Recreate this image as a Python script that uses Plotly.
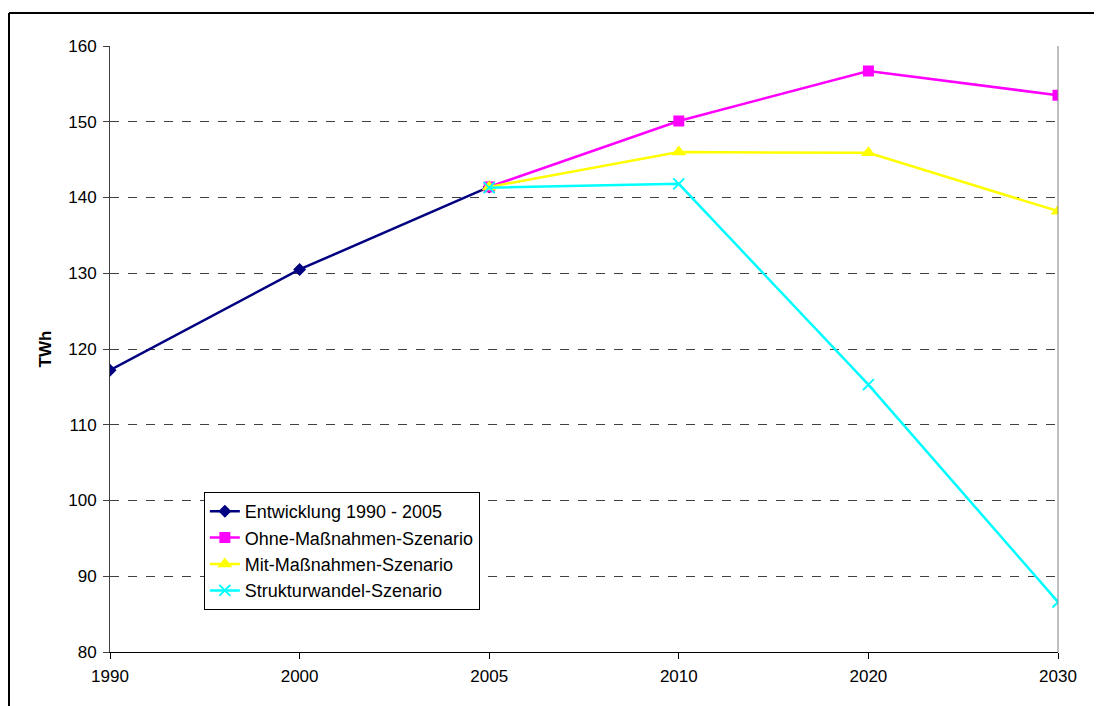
import plotly.graph_objects as go

years = ['1990', '2000', '2005', '2010', '2020', '2030']

hist_years = ['1990', '2000', '2005']
hist_values = [117.2, 130.5, 141.4]

scen_years = ['2005', '2010', '2020', '2030']
ohne_values = [141.4, 150.1, 156.7, 153.5]
mit_values = [141.4, 146.0, 145.9, 138.2]
struktur_values = [141.3, 141.8, 115.3, 86.6]

y_ticks = [80, 90, 100, 110, 120, 130, 140, 150, 160]

font_family = 'Liberation Sans, Arial, sans-serif'

trace1 = go.Scatter(x=hist_years, y=hist_values, name='Entwicklung 1990 - 2005',
                    mode='lines+markers', line=dict(color='#000080', width=2.5),
                    marker=dict(symbol='diamond', size=10, color='#000080'))
trace2 = go.Scatter(x=scen_years, y=ohne_values, name='Ohne-Maßnahmen-Szenario',
                    mode='lines+markers', line=dict(color='#FF00FF', width=2.5),
                    marker=dict(symbol='square', size=11, color='#FF00FF'))
trace3 = go.Scatter(x=scen_years, y=mit_values, name='Mit-Maßnahmen-Szenario',
                    mode='lines+markers', line=dict(color='#FFFF00', width=2.5),
                    marker=dict(symbol='triangle-up', size=13, color='#FFFF00'))
trace4 = go.Scatter(x=scen_years, y=struktur_values, name='Strukturwandel-Szenario',
                    mode='lines+markers', line=dict(color='#00FFFF', width=2.5),
                    marker=dict(symbol='x-thin', size=11, color='#00FFFF',
                                line=dict(color='#00FFFF', width=2)))

fig = go.Figure(data=[trace1, trace2, trace3, trace4])

# page body has an 8px margin, so the figure is drawn 8px in from the corner
# outer chart border (top and left edges visible in the frame)
bx = (9 - 110) / 948
by = (652 - 13) / 606
border = dict(color='black', width=2)

fig.update_layout(
    width=1094, height=698,
    margin={'l': 102, 'r': 44, 't': 38, 'b': 54},
    paper_bgcolor='white', plot_bgcolor='white',
    font=dict(family=font_family, size=17, color='black'),
    showlegend=True,
    legend=dict(x=0.099, y=0.264, xanchor='left', yanchor='top',
                bgcolor='white', bordercolor='black', borderwidth=1,
                font=dict(size=18, family=font_family)),
    xaxis=dict(type='category', categoryorder='array', categoryarray=years,
               range=[0, 5], showgrid=False, showline=True, linecolor='black',
               linewidth=1, ticks='outside', ticklen=6, tickcolor='black',
               zeroline=False, tickfont=dict(size=17), ticklabelstandoff=3),
    yaxis=dict(range=[80, 160], tickvals=y_ticks, showgrid=True,
               gridcolor='#404040', griddash='dash', gridwidth=1,
               showline=True, linecolor='#404040', linewidth=1,
               ticks='outside', ticklen=6, tickcolor='#404040', zeroline=False,
               title=dict(text='<b>TWh</b>', standoff=12, font=dict(size=17)),
               tickfont=dict(size=17), ticklabelstandoff=3),
    shapes=[
        dict(type='line', xref='paper', yref='paper', x0=1, x1=1, y0=0, y1=1,
             line=dict(color='#808080', width=1)),
        dict(type='line', xref='paper', yref='paper', x0=bx, x1=1.2, y0=by, y1=by,
             line=border),
        dict(type='line', xref='paper', yref='paper', x0=bx, x1=bx, y0=by, y1=-0.2,
             line=border),
    ],
)

fig.write_html("out.html")
